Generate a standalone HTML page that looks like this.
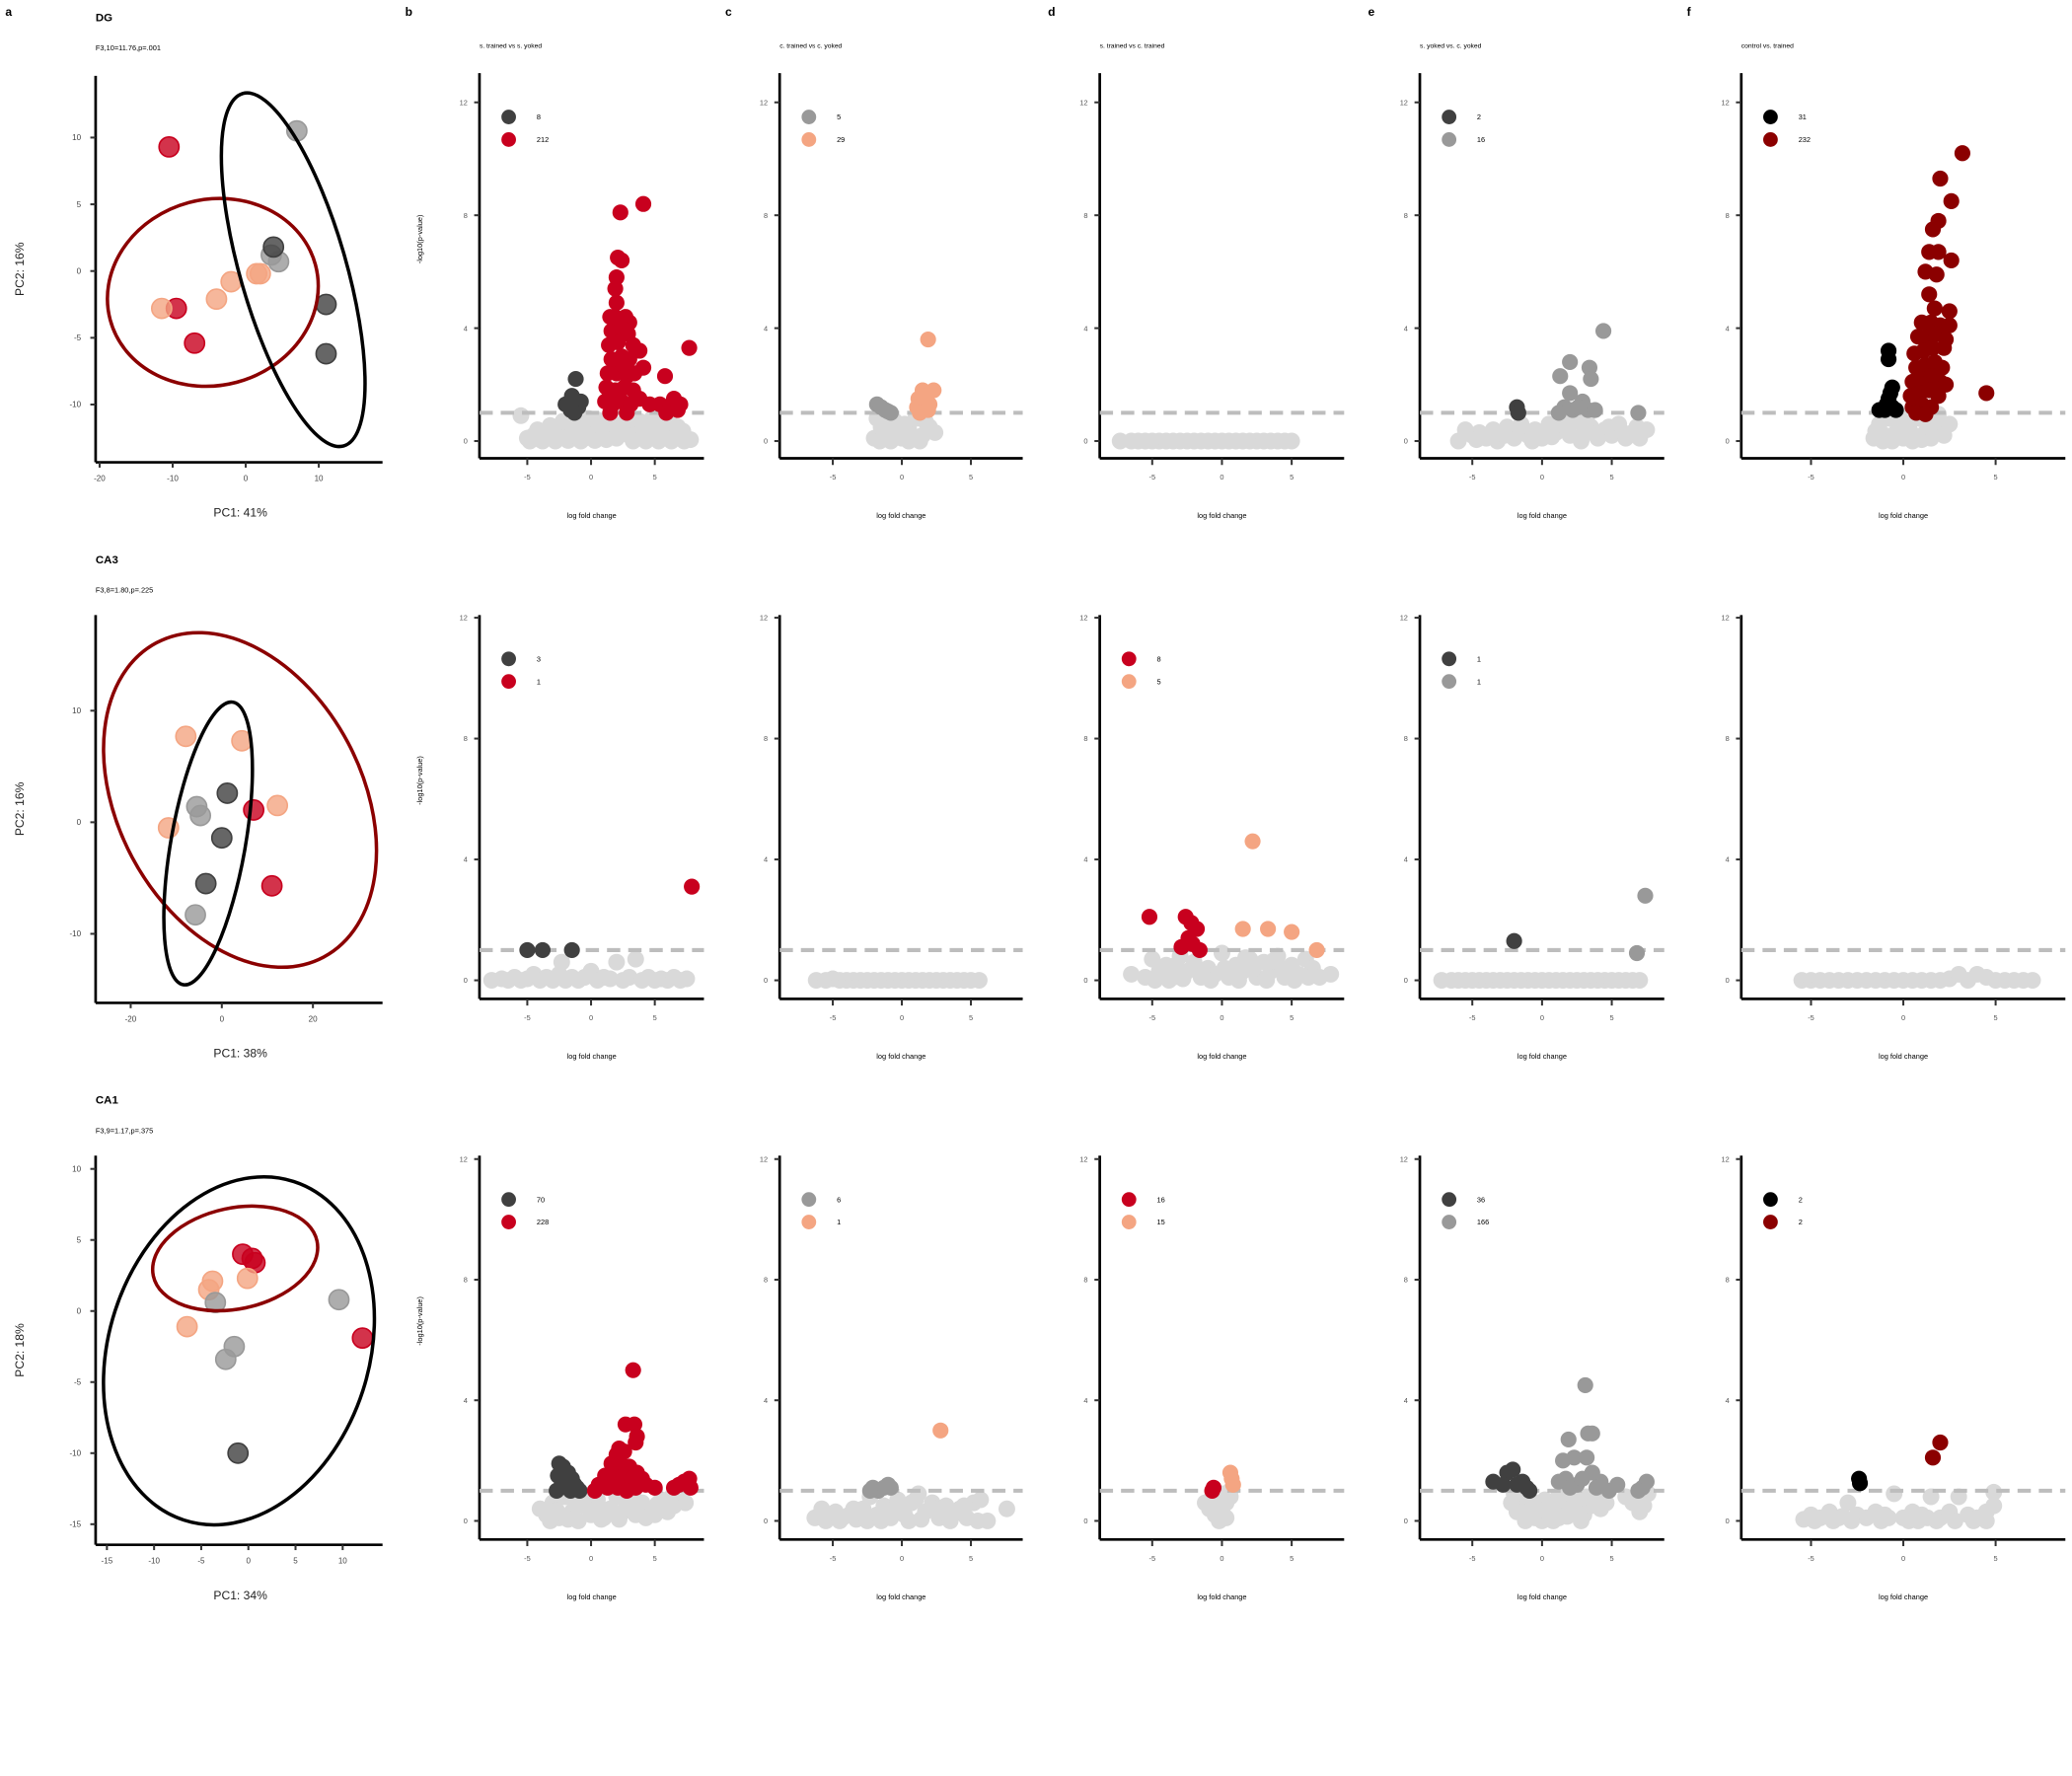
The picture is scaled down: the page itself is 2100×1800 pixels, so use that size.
<!DOCTYPE html>
<html><head><meta charset="utf-8"><style>
html,body{margin:0;padding:0;background:#fff;}
svg{display:block;font-family:"Liberation Sans",sans-serif;}
</style></head><body>
<svg id="fig" width="2100" height="1800" viewBox="0 0 1560 1337" xmlns="http://www.w3.org/2000/svg"></svg>
<script>
// ---------- PCA data ----------
const pcaRowTitles = ["DG","CA3","CA1"];
const pcaStats = ["F3,10=11.76,p=.001","F3,8=1.80,p=.225","F3,9=1.17,p=.375"];
const pcaXLabels = ["PC1: 41%","PC1: 38%","PC1: 34%"];
const pcaYLabels = ["PC2: 16%","PC2: 16%","PC2: 18%"];
const pcaXTicks = [[-20,-10,0,10],[-20,0,20],[-15,-10,-5,0,5,10]];
const pcaYTicks = [[10,5,0,-5,-10],[10,0,-10],[10,5,0,-5,-10,-15]];
const pcaRed = [[[-10.5,9.3],[-9.5,-2.8],[-7,-5.4]],[[7,1.1],[11,-5.7]],[[-0.6,4],[0.4,3.7],[0.7,3.4],[12.1,-1.9]]];
const pcaPeach = [[[-11.5,-2.8],[-4,-2.1],[-2,-0.8],[1.5,-0.2],[2,-0.2]],[[-7.9,7.7],[4.4,7.3],[12.2,1.5],[-11.7,-0.5]],[[-3.8,2.1],[-4.2,1.5],[-0.1,2.3],[-6.5,-1.1]]];
const pcaGray = [[[7,10.5],[4.5,0.7],[3.5,1.2]],[[-5.5,1.4],[-4.7,0.6],[-5.8,-8.3]],[[-3.5,0.6],[9.6,0.8],[-1.5,-2.5],[-2.4,-3.4]]];
const pcaDark = [[[3.8,1.8],[11,-2.5],[11,-6.2]],[[1.2,2.6],[0,-1.4],[-3.5,-5.5]],[[-1.1,-10]]];
const ellRedC = [[-4.5,-1.6],[4,2],[-1.4,3.7]];
const ellBlackC = [[6.5,0.1],[-3,-1.9],[-1,-2.8]];
// ---------- Volcano data ----------
const volTitles = ["s. trained vs s. yoked","c. trained vs c. yoked","s. trained vs c. trained","s. yoked vs. c. yoked","control vs. trained"];
const volYTicks = [0,4,8,12];
const volXTicks = [-5,0,5];
const legendCounts = [
 [["8","212"],["5","29"],null,["2","16"],["31","232"]],
 [["3","1"],null,["8","5"],["1","1"],null],
 [["70","228"],["6","1"],["16","15"],["36","166"],["2","2"]]
];
const groupKeys = [
 [["dark","red"],["gray","peach"],null,["dark","gray"],["black","dred"]],
 [["dark","red"],null,["red","peach"],["dark","gray"],null],
 [["dark","red"],["gray","peach"],["red","peach"],["dark","gray"],["black","dred"]]
];
const bgCloudWide = [[-5.5,0.9],[-5,0.1],[-4.5,0.2],[-4,0.05],[-3.5,0.3],[-3,0.1],[-2.5,0.4],[-2,0.15],[-1.5,0.6],[-1,0.3],[-0.5,0.1],[0,0.5],[0.5,0.2],[1,0.7],[1.5,0.3],[2,0.1],[2.5,0.6],[3,0.2],[3.5,0.4],[4,0.1],[4.5,0.5],[5,0.2],[5.5,0.7],[6,0.1],[6.5,0.3],[7,0.15],[7.8,0.05],[-0.2,0.8],[1.2,0.05],[2.8,0.9],[4.8,0.8],[-3.2,0.55],[3.8,0.7],[0.8,0.35],[5.8,0.4],[-4.2,0.4],[-1.8,0.02],[0.3,0.02],[2.2,0.45],[6.8,0.5],[-4.8,0.0],[-3.8,0.0],[-2.8,0.0],[-0.8,0.0],[3.3,0.0],[4.3,0.0],[5.3,0.0],[6.3,0.0],[7.3,0.0],[-2.2,0.7],[-1.2,0.55],[0.5,0.75],[1.8,0.6],[3.1,0.75],[4.2,0.3],[5.2,0.45],[6.2,0.65],[7.2,0.35]];
const bgNarrow = [[-2,0.1],[-1.6,0.4],[-1.2,0.8],[-1,0.05],[-0.6,0.3],[-0.3,0.6],[0,0.1],[0.3,0.4],[0.6,0.8],[0.9,0.2],[1.2,0.5],[1.5,0.05],[1.8,0.3],[2.1,0.7],[2.4,0.6],[-0.9,0.55],[0.5,0.0],[1.5,0.9],[-1.4,0.2],[0.1,0.7]];
const bgLine = [[-7.3,0],[-6.5,0],[-6,0],[-5.5,0],[-5,0],[-4.5,0],[-4,0],[-3.5,0],[-3,0],[-2.5,0],[-2,0],[-1.5,0],[-1,0],[-0.5,0],[0,0],[0.5,0],[1,0],[1.5,0],[2,0],[2.5,0],[3,0],[3.5,0],[4,0],[4.5,0],[5,0]];
const bgLine2 = [[-6.2,0],[-5.5,0],[-5,0.05],[-4.5,0],[-4,0],[-3.5,0],[-3,0],[-2.5,0],[-2,0],[-1.5,0],[-1,0],[-0.5,0],[0,0],[0.5,0],[1,0],[1.5,0],[2,0],[2.5,0],[3,0],[3.5,0],[4,0],[4.5,0],[5,0],[5.6,0]];
const bgLine3 = [[-7.2,0],[-6.5,0],[-6,0],[-5.5,0],[-5,0],[-4.5,0],[-4,0],[-3.5,0],[-3,0],[-2.5,0],[-2,0],[-1.5,0],[-1,0],[-0.5,0],[0,0],[0.5,0],[1,0],[1.5,0],[2,0],[2.5,0],[3,0],[3.5,0],[4,0],[4.5,0],[5,0],[5.5,0],[6,0],[6.5,0],[7,0]];
const bgLine4 = [[-5.5,0],[-5,0],[-4.5,0],[-4,0],[-3.5,0],[-3,0],[-2.5,0],[-2,0],[-1.5,0],[-1,0],[-0.5,0],[0,0],[0.5,0],[1,0],[1.5,0],[2,0],[2.5,0.05],[3,0.2],[3.5,0],[4,0.2],[4.5,0.1],[5,0],[5.5,0],[6,0],[6.5,0],[7,0]];
const bgCA1b = [[-4,0.4],[-3.5,0.2],[-3,0.6],[-2.5,0.1],[-2,0.8],[-1.5,0.3],[-1,0.0],[-0.5,0.5],[0,0.2],[0.5,0.7],[1,0.1],[1.5,0.4],[2,0.8],[2.5,0.3],[3,0.5],[3.5,0.2],[4,0.6],[4.5,0.4],[5,0.2],[5.5,0.7],[6,0.3],[6.5,0.5],[7,0.9],[7.4,0.6],[-1.2,0.6],[0.8,0.05],[2.2,0.05],[-2.7,0.35],[-3.2,0.0],[-1.8,0.05],[0.2,0.5],[1.2,0.35],[3.3,0.8],[4.3,0.1],[2.8,0.6],[-0.3,0.85],[5.2,0.55],[6.2,0.75]];
const bgCA1c = [[-6.3,0.1],[-5.8,0.4],[-5.3,0.1],[-4.8,0.3],[-4.3,0.1],[-3.8,0.2],[-3.3,0.05],[-2.8,0.4],[-2.3,0.8],[-1.8,0.2],[-1.3,0.5],[-0.8,0.1],[-0.3,0.7],[0.2,0.2],[0.7,0.6],[1.2,0.9],[1.7,0.3],[2.2,0.6],[2.7,0.1],[3.2,0.5],[3.7,0.2],[4.2,0.4],[4.7,0.1],[5.2,0.6],[6.2,0.0],[7.6,0.4],[-0.6,0.3],[1.4,0.05],[-5.5,0.0],[-4.5,0.0],[-3.5,0.4],[-2.5,0.0],[-1.5,0.0],[0.5,0.0],[2.5,0.4],[3.5,0.0],[4.5,0.5],[5.5,0.0],[5.7,0.7],[1.0,0.7],[-0.1,0.4]];
const bgCA1d = [[-1.2,0.6],[-0.9,0.4],[-0.6,0.8],[-0.3,0.5],[0,0.9],[0.3,0.6],[0.6,0.8],[-0.5,0.2],[0,0.3],[-0.2,0],[0.3,0.1],[-0.8,0.7],[0.6,1.0],[-0.4,0.95],[0.2,0.75],[-0.1,0.15]];
const bgCA1e = [[-2,0.9],[-1.5,0.6],[-1,0.3],[-0.5,0.1],[0,0.0],[0.5,0.3],[1,0.5],[1.5,0.7],[2,0.4],[2.5,0.6],[3,0.2],[3.5,0.5],[4,0.7],[-0.5,0.6],[-1.8,0.3],[0.2,0.7],[6,0.8],[6.5,0.6],[7,0.3],[7.3,0.5],[7.6,0.9],[1.2,0.1],[4.2,0.4],[-1.2,0.0],[-0.2,0.35],[0.8,0.0],[1.8,0.15],[2.8,0.0],[3.2,0.8],[2.2,0.85],[1.2,0.85],[-1.0,0.8],[-2.2,0.6],[4.6,0.6]];
const bgCA1f = [[-5.4,0.05],[-5,0.2],[-4.5,0.1],[-4,0.3],[-3.5,0.1],[-3,0.6],[-2.5,0.2],[-2,0.1],[-1.5,0.3],[-1,0.2],[-0.5,0.9],[0,0.1],[0.5,0.3],[1,0.2],[1.5,0.8],[2,0.1],[2.5,0.3],[3,0.8],[3.5,0.2],[4,0.1],[4.5,0.3],[4.9,0.5],[4.9,0.95],[0.3,0.0],[-3.8,0.0],[1.8,0.0],[-4.8,0.0],[-2.8,0.0],[-1.2,0.0],[0.8,0.0],[2.8,0.0],[3.8,0.0],[4.5,0.0],[-3.3,0.15],[-0.8,0.1],[1.3,0.1]];
const bgR1c = [[-2,0.1],[-1.5,0.5],[-1,0.2],[-0.5,0.7],[0,0.1],[0.5,0.4],[1,0.8],[1.5,0.2],[2,0.5],[2.4,0.3],[-1.8,0.8],[0.2,0.6],[1.3,0.0],[-0.8,0.0],[-1.2,0.6],[-0.2,0.35],[0.8,0.15],[1.7,0.7],[-1.6,0.0],[0.5,0.0]];
const bgR1e = [[-6,0.0],[-5.5,0.4],[-5,0.2],[-4.5,0.3],[-4,0.1],[-3.5,0.4],[-3,0.2],[-2.5,0.5],[-2,0.1],[-1.5,0.6],[-1,0.2],[-0.5,0.4],[0,0.1],[0.5,0.6],[1,0.3],[1.5,0.8],[2,0.2],[2.5,0.7],[3,0.3],[3.5,0.5],[4,0.1],[4.5,0.4],[5,0.2],[5.5,0.6],[6,0.1],[6.5,0.3],[7,0.1],[7.5,0.4],[-4.7,0.05],[-3.2,0.0],[-1.8,0.35],[-0.7,0.0],[0.7,0.15],[1.8,0.45],[2.8,0.0],[3.8,0.25],[4.8,0.5],[5.8,0.3],[6.8,0.5],[-2.7,0.2],[1.2,0.6],[2.2,0.85],[3.2,0.8]];
const bgR1f = [[-1.6,0.1],[-1.3,0.6],[-1,0.2],[-0.7,0.8],[-0.4,0.3],[0,0.1],[0.3,0.5],[0.6,0.2],[0.9,0.8],[1.2,0.3],[1.5,0.1],[1.8,0.6],[2.5,0.6],[2.2,0.2],[0.1,0.8],[1.9,0.95],[-1.1,0.0],[-0.6,0.0],[-0.2,0.45],[0.5,0.0],[1.0,0.05],[1.4,0.5],[-1.5,0.35],[0.2,0.25]];
const bgR2b = [[-7.8,0.0],[-7,0.05],[-6.5,0],[-6,0.1],[-5.5,0],[-5,0.05],[-4.5,0.2],[-4,0],[-3.5,0.1],[-3,0],[-2.5,0.2],[-2,0],[-1.5,0.1],[-1,0],[-0.5,0.1],[0,0.3],[0.5,0],[1,0.1],[1.5,0.05],[2,0.6],[2.5,0],[3,0.1],[3.5,0.7],[4,0],[4.5,0.1],[5,0],[5.5,0.05],[6,0],[6.5,0.1],[7,0],[7.5,0.05],[-2.3,0.6]];
const bgR2d = [[-6.5,0.2],[-5.5,0.1],[-5,0.7],[-4.5,0.3],[-4,0.5],[-3.5,0.1],[-3,0.8],[-2.5,0.3],[-2,0.6],[-1.5,0.1],[-1,0.4],[-0.5,0.2],[0,0.9],[0.5,0.1],[1,0.5],[1.5,0.3],[2,0.7],[2.5,0.1],[3,0.6],[3.5,0.3],[4,0.8],[4.5,0.1],[5,0.5],[5.5,0.2],[6,0.7],[6.5,0.4],[7,0.1],[7.8,0.2],[-4.8,0.0],[-3.8,0.0],[-2.8,0.05],[-1.8,0.35],[-0.8,0.0],[0.2,0.4],[1.2,0.0],[2.2,0.35],[3.2,0.0],[4.2,0.4],[5.2,0.0],[6.2,0.1],[-3.3,0.5],[1.7,0.75],[3.7,0.65]];
const bgSets = [[bgCloudWide,bgR1c,bgLine,bgR1e,bgR1f],[bgR2b,bgLine2,bgR2d,bgLine3,bgLine4],[bgCA1b,bgCA1c,bgCA1d,bgCA1e,bgCA1f]];
const grpA = [
 [[[-1.2,2.2],[-1.5,1.6],[-2,1.3],[-1,1.2],[-0.8,1.4],[-1.3,1.0],[-1.6,1.1]],
  [[-1.8,1.3],[-1.2,1.1],[-0.8,1.0],[-1.5,1.2],[-1.0,1.05]],
  null,
  [[-1.8,1.2],[-1.7,1.0]],
  [[-0.8,3.2],[-0.8,2.9],[-0.6,1.9],[-0.8,1.5],[-1.3,1.1],[-0.6,1.2],[-0.9,1.3],[-1.0,1.1],[-0.4,1.1],[-0.7,1.7]]],
 [[[-5,1.0],[-3.8,1.0],[-1.5,1.0]],
  null,
  [[-5.2,2.1],[-2.6,2.1],[-2.2,1.9],[-1.8,1.7],[-2.4,1.4],[-2.9,1.1],[-1.6,1.0],[-2.1,1.2]],
  [[-2,1.3]],
  null],
 [[[-2.5,1.9],[-2.2,1.8],[-1.8,1.6],[-1.5,1.4],[-2.6,1.5],[-2.3,1.2],[-1.9,1.1],[-1.3,1.2],[-0.9,1.0],[-2.7,1.0],[-1.6,1.0],[-1.1,1.1],[-2.0,1.3],[-2.4,1.6]],
  [[-2.1,1.1],[-1.3,1.1],[-0.8,1.1],[-1.7,1.0],[-1.0,1.2],[-2.3,1.0]],
  [[-0.6,1.1],[-0.7,1.0]],
  [[-3.5,1.3],[-2.5,1.6],[-2.1,1.7],[-1.4,1.3],[-1.1,1.1],[-0.9,1.0],[-2.8,1.2],[-1.8,1.2]],
  [[-2.4,1.4],[-2.35,1.25]]]
];
const grpB = [
 [[[2.3,8.1],[4.1,8.4],[2.1,6.5],[2.4,6.4],[2,5.8],[1.9,5.4],[2.0,4.9],[1.5,4.4],[2.7,4.4],[3.0,4.2],[1.6,3.9],[2.4,4.0],[2.9,3.8],[3.3,3.4],[1.4,3.4],[2.1,3.5],[3.8,3.2],[7.7,3.3],[1.6,2.9],[2.4,3.0],[3.0,2.9],[4.1,2.6],[1.3,2.4],[2.0,2.4],[2.8,2.3],[3.4,2.4],[5.8,2.3],[1.2,1.9],[1.9,1.8],[2.6,1.9],[3.3,1.8],[1.1,1.4],[1.7,1.3],[2.4,1.4],[3.1,1.3],[3.8,1.5],[4.6,1.3],[5.4,1.3],[6.0,1.2],[6.5,1.5],[7,1.3],[1.5,1.0],[2.8,1.0],[5.9,1.0],[6.8,1.1],[1.9,4.4],[2.5,2.7]],
  [[1.9,3.6],[1.5,1.8],[1.2,1.5],[2.3,1.8],[1.1,1.2],[2,1.3],[1.6,1.6],[1.9,1.1],[1.3,1.0]],
  null,
  [[4.4,3.9],[2,2.8],[3.4,2.6],[1.3,2.3],[3.5,2.2],[2,1.7],[1.6,1.2],[2.2,1.1],[3.3,1.1],[6.9,1.0],[2.9,1.4],[1.2,1.0],[2.6,1.2],[3.8,1.1]],
  [[3.2,10.2],[2,9.3],[2.6,8.5],[1.9,7.8],[1.6,7.5],[1.4,6.7],[1.9,6.7],[2.6,6.4],[1.2,6],[1.8,5.9],[1.4,5.2],[1.7,4.7],[2.5,4.6],[4.5,1.7],[1.0,4.2],[1.5,4.2],[2.0,4.1],[2.5,4.1],[0.8,3.7],[1.3,3.7],[1.8,3.8],[2.3,3.6],[0.6,3.1],[1.1,3.2],[1.6,3.3],[2.2,3.3],[0.7,2.6],[1.2,2.7],[1.7,2.8],[2.1,2.6],[0.5,2.1],[1.0,2.2],[1.5,2.3],[2.0,2.1],[2.3,2.0],[0.4,1.6],[0.9,1.7],[1.4,1.8],[1.9,1.6],[0.5,1.2],[1.0,1.3],[1.5,1.2],[0.7,1.0],[1.2,0.95]]],
 [[[7.9,3.1]],
  null,
  [[2.2,4.6],[1.5,1.7],[3.3,1.7],[5,1.6],[6.8,1.0]],
  [[7.4,2.8],[6.8,0.9]],
  null],
 [[[3.3,5],[2.7,3.2],[3.4,3.2],[3.6,2.8],[3.5,2.6],[2.2,2.4],[2.0,2.2],[2.6,2.3],[1.6,1.9],[2.3,1.9],[3.0,1.8],[3.6,1.6],[1.1,1.5],[1.8,1.5],[2.5,1.5],[3.2,1.4],[4.0,1.4],[0.6,1.2],[1.3,1.1],[2.1,1.1],[2.8,1.0],[3.5,1.1],[4.3,1.2],[5.0,1.1],[6.5,1.1],[6.9,1.2],[7.3,1.3],[7.7,1.4],[7.8,1.1],[0.3,1.0]],
  [[2.8,3]],
  [[0.6,1.6],[0.8,1.2],[0.7,1.4]],
  [[3.1,4.5],[3.6,2.9],[3.3,2.9],[1.9,2.7],[2.3,2.1],[1.5,2],[3.2,2.1],[3.6,1.6],[1.2,1.3],[2.5,1.2],[5.4,1.2],[7.5,1.3],[7.2,1.1],[6.9,1.0],[4.2,1.3],[1.7,1.4],[2.9,1.4],[3.9,1.1],[4.8,1.0],[2.0,1.1]],
  [[2,2.6],[1.6,2.1]]]
];
// ---------- drawing ----------
const NS = "http://www.w3.org/2000/svg";
const svg = document.getElementById("fig");
const COL = {red:"#c8001e",dark:"#404040",gray:"#999999",peach:"#f4a582",dred:"#8b0000",black:"#000000",light:"#d9d9d9"};
function mk(tag, attrs, parent){
  const e = document.createElementNS(NS, tag);
  for (const k in attrs) e.setAttribute(k, attrs[k]);
  (parent||svg).appendChild(e);
  return e;
}
function txt(s, x, y, size, attrs, parent){
  const t = mk("text", Object.assign({x:x,y:y,"font-size":size}, attrs||{}), parent);
  t.textContent = s;
  return t;
}
const letters = ["a","b","c","d","e","f"];
const letterX = [4,305,546,789,1030,1270];
letters.forEach((L,i)=>{
  const t = txt(L, letterX[i], 12, 9, {"font-weight":"bold"});
  
  
});
const pcaG = [
  {ox:185,oy:204,sx:5.5,sy:10.05,top:57,bot:348,right:288,titleY:16,
   ell:{red:[80,70,-15],black:[40,138,-16]}},
  {ox:167,oy:619,sx:3.43,sy:8.4,top:463,bot:755,right:288,titleY:424,
   ell:{red:[92,134,-28],black:[28,108,10]}},
  {ox:187,oy:987,sx:7.1,sy:10.7,top:870,bot:1163,right:288,titleY:831,
   ell:{red:[63,38,-12],black:[98,134,18]}}
];
pcaG.forEach((g,r)=>{
  const grp = mk("g",{});
  
  
  const X = v => g.ox + v*g.sx, Y = v => g.oy - v*g.sy;
  const t1 = txt(pcaRowTitles[r], 72, g.titleY, 8.5, {"font-weight":"bold"}, grp);
  
  
  const t2 = txt(pcaStats[r], 72, g.titleY+22, 5.5, {}, grp);
  
  
  mk("line",{x1:72,y1:g.top,x2:72,y2:g.bot,stroke:"#000","stroke-width":2},grp);
  mk("line",{x1:72,y1:g.bot,x2:g.right,y2:g.bot,stroke:"#000","stroke-width":2},grp);
  pcaXTicks[r].forEach(v=>{
    mk("line",{x1:X(v),y1:g.bot,x2:X(v),y2:g.bot+4,stroke:"#333","stroke-width":1.5},grp);
    txt(String(v), X(v), g.bot+14, 6, {"text-anchor":"middle",fill:"#444"}, grp);
  });
  pcaYTicks[r].forEach(v=>{
    mk("line",{x1:68,y1:Y(v),x2:72,y2:Y(v),stroke:"#333","stroke-width":1.5},grp);
    txt(String(v), 61, Y(v)+2, 6, {"text-anchor":"end",fill:"#444"}, grp);
  });
  const xl = txt(pcaXLabels[r], 181, g.bot+41, 9, {"text-anchor":"middle",fill:"#222"}, grp);
  
  
  const yl = txt(pcaYLabels[r], 0, 0, 9, {"text-anchor":"middle",fill:"#222",transform:`translate(18,${(g.top+g.bot)/2}) rotate(-90)`}, grp);
  
  
  const sets = [[pcaRed[r],COL.red],[pcaPeach[r],COL.peach],[pcaGray[r],COL.gray],[pcaDark[r],COL.dark]];
  sets.forEach(([pts,c])=>pts.forEach(p=>{
    const ci = mk("circle",{cx:X(p[0]),cy:Y(p[1]),r:7.5,fill:c,"fill-opacity":0.8,stroke:c,"stroke-width":1.2},grp);
    
    
  }));
  const er = g.ell.red, eb = g.ell.black;
  const e1 = mk("ellipse",{cx:0,cy:0,rx:er[0],ry:er[1],fill:"none",stroke:"#8b0000","stroke-width":2.6,
    transform:`translate(${X(ellRedC[r][0])},${Y(ellRedC[r][1])}) rotate(${er[2]})`},grp);
  
  
  const e2 = mk("ellipse",{cx:0,cy:0,rx:eb[0],ry:eb[1],fill:"none",stroke:"#000","stroke-width":2.6,
    transform:`translate(${X(ellBlackC[r][0])},${Y(ellBlackC[r][1])}) rotate(${eb[2]})`},grp);
  
  
});
const rowsG = [{y0:332,u:21.25,axisY:345,top:55},{y0:738,u:22.75,axisY:752,top:463},{y0:1145,u:22.7,axisY:1159,top:870}];
const colsG = [{ax:361,zero:445,end:530,s:9.6},{ax:587,zero:679,end:770,s:10.4},{ax:828,zero:920,end:1012,s:10.5},{ax:1069,zero:1161,end:1253,s:10.5},{ax:1311,zero:1433,end:1555,s:13.9}];
rowsG.forEach((R,r)=>{
  colsG.forEach((C,c)=>{
    const grp = mk("g",{});
    
    
    const X = v => C.zero + v*C.s, Y = v => R.y0 - v*R.u;
    if (r===0){
      const tt = txt(volTitles[c], C.ax, 36, 5, {}, grp);
      
      
    }
    mk("line",{x1:C.ax,y1:R.top,x2:C.ax,y2:R.axisY,stroke:"#000","stroke-width":2},grp);
    mk("line",{x1:C.ax,y1:R.axisY,x2:C.end,y2:R.axisY,stroke:"#000","stroke-width":2},grp);
    volYTicks.forEach(v=>{
      mk("line",{x1:C.ax-4,y1:Y(v),x2:C.ax,y2:Y(v),stroke:"#333","stroke-width":1.5},grp);
      txt(String(v), C.ax-9, Y(v)+2, 5.5, {"text-anchor":"end",fill:"#555"}, grp);
    });
    volXTicks.forEach(v=>{
      mk("line",{x1:X(v),y1:R.axisY,x2:X(v),y2:R.axisY+5,stroke:"#333","stroke-width":1.5},grp);
      txt(String(v), X(v), R.axisY+16, 5.5, {"text-anchor":"middle",fill:"#555"}, grp);
    });
    const xl = txt("log fold change", (C.ax+C.end)/2, R.axisY+45, 5.5, {"text-anchor":"middle"}, grp);
    
    
    if (c===0){
      const yl = txt("-log10(p-value)", 0, 0, 5.5, {"text-anchor":"middle",transform:`translate(318,${(R.top+R.axisY)/2-20}) rotate(-90)`}, grp);
      
      
    }
    bgSets[r][c].forEach(p=>{
      const ci = mk("circle",{cx:X(p[0]),cy:Y(p[1]),r:6.3,fill:COL.light},grp);
      
      
    });
    const th = mk("line",{x1:C.ax,y1:Y(1),x2:C.end,y2:Y(1),stroke:"#bdbdbd","stroke-width":3,"stroke-dasharray":"10,6"},grp);
    
    
    const keys = groupKeys[r][c];
    [grpA[r][c], grpB[r][c]].forEach((pts,k)=>{
      if (!pts) return;
      pts.forEach(p=>{
        const ci = mk("circle",{cx:X(p[0]),cy:Y(p[1]),r:6,fill:COL[keys[k]]},grp);
        
        
      });
    });
    const lg = legendCounts[r][c];
    if (lg){
      lg.forEach((s,k)=>{
        const ly = R.top + 33 + k*17;
        const ci = mk("circle",{cx:C.ax+22,cy:ly,r:5.5,fill:COL[keys[k]]},grp);
        
        
        const lt = txt(s, C.ax+43, ly+2, 5.5, {}, grp);
        
        
      });
    }
  });
});
</script>
</body></html>
